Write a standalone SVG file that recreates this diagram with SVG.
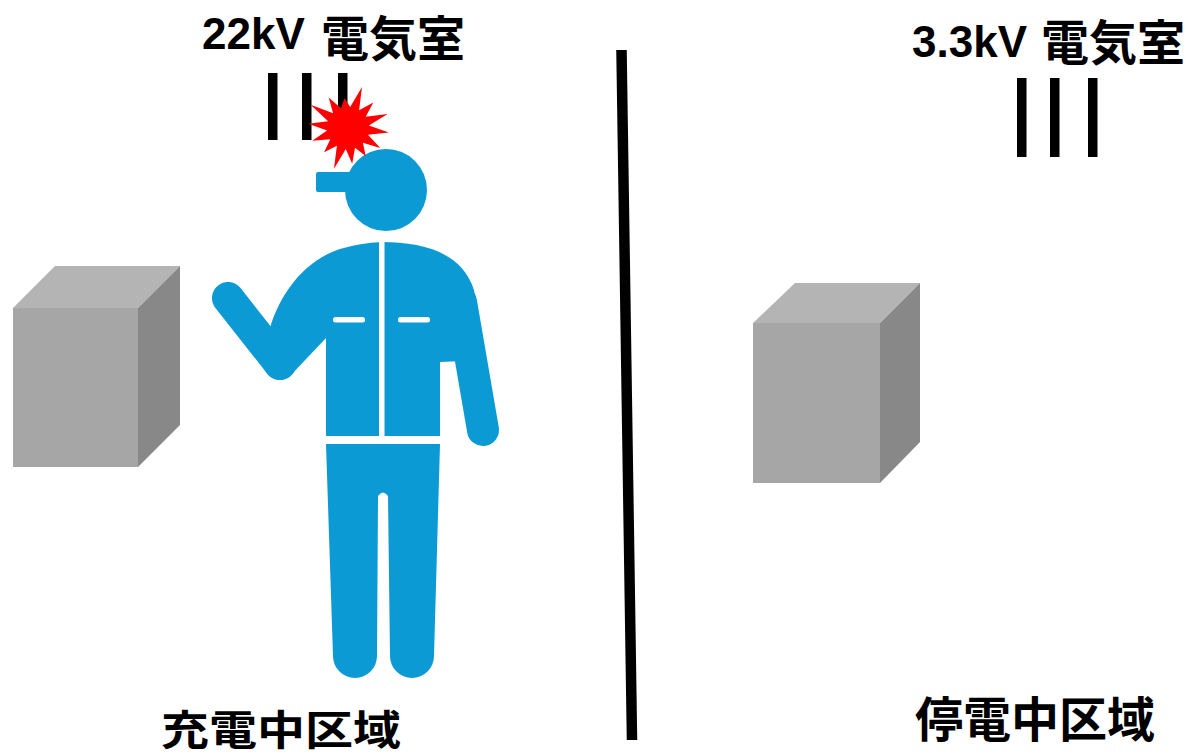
<svg xmlns="http://www.w3.org/2000/svg" width="1188" height="755" viewBox="0 0 1188 755">
  <style>
    .lat { font-family: "Liberation Sans", Arial, sans-serif; font-weight: 700; font-size: 44px; fill: #000; }
    .cjk { font-family: "Noto Sans CJK JP", "Noto Sans CJK SC", sans-serif; font-weight: 700; font-size: 48px; fill: #000; }
    .bar { fill: #000; }
    .suit { fill: #0B9AD3; }
    .limb { fill: none; stroke: #0B9AD3; stroke-width: 32; stroke-linecap: round; stroke-linejoin: round; }
    .seam { fill: #fff; }
    .front { fill: #A6A6A6; }
    .top { fill: #B4B4B4; }
    .side { fill: #888888; }
  </style>

  <rect width="1188" height="755" fill="#fff"/>

  <!-- 22 kV room: title and three bus bars -->
  <g id="room-22kv">
    <text class="lat" x="202" y="49">22kV</text>
    <text class="cjk" x="321" y="56">電気室</text>
    <rect class="bar" x="268" y="73" width="9.5" height="67"/>
    <rect class="bar" x="302" y="73" width="9.5" height="67"/>
    <rect class="bar" x="338" y="73" width="9.5" height="67"/>
  </g>

  <!-- 3.3 kV room: title and three bus bars -->
  <g id="room-3kv">
    <text class="lat" x="912" y="57">3.3kV</text>
    <text class="cjk" x="1041" y="60">電気室</text>
    <rect class="bar" x="1017" y="78" width="9.5" height="79"/>
    <rect class="bar" x="1050" y="78" width="9.5" height="79"/>
    <rect class="bar" x="1088" y="78" width="9.5" height="79"/>
  </g>

  <!-- equipment cabinets -->
  <g id="box-left">
    <polygon class="top" points="13,308 55,266 180,266 138,308"/>
    <polygon class="side" points="138,308 180,266 180,425 138,467"/>
    <rect class="front" x="13" y="308" width="125" height="159"/>
  </g>
  <g id="box-right">
    <polygon class="top" points="753,323 795,283 920,283 880,323"/>
    <polygon class="side" points="880,323 920,283 920,442 880,483"/>
    <rect class="front" x="753" y="323" width="127" height="160"/>
  </g>

  <!-- worker -->
  <g id="worker">
    <circle class="suit" cx="386" cy="190" r="41"/>
    <rect class="suit" x="316" y="172" width="40" height="20" rx="2"/>
    <path class="suit" d="M326,436 L326,338 L290,376 L270,328 C278,300 300,262 340,249 Q360,243 382,242 C422,242 462,252 474,290 L486,360 L440,362 L440,436 Z"/>
    <polyline class="limb" points="228,298 280,364"/>
    <polyline class="limb" points="280,364 300,335"/>
    <polyline class="limb" points="461,302 483,430"/>
    <rect class="seam" x="379" y="236" width="5.5" height="202"/>
    <rect class="seam" x="333" y="317" width="32" height="5.5" rx="2.5"/>
    <rect class="seam" x="398" y="317" width="32" height="5.5" rx="2.5"/>
    <path class="suit" d="M326,444 H440 L434,656 A22,22 0 0 1 390,656 L388,496 Q383,489 378,496 L377,656 A22,22 0 0 1 333,656 Z"/>
  </g>

  <!-- arc flash at the bus bar -->
  <g id="spark">
    <polygon fill="#FF0000" points="362,87 359.1,110.2 373.3,102.4 365.7,116.7 387.6,113.9 368.9,125.5 388.8,132.4 367.9,134.8 380.3,148.1 362.9,142.8 365.7,155.9 355,147.8 352.2,163.8 345.8,148.9 334,168.7 336.9,145.8 324.1,152.2 330.3,139.3 312.2,140.7 327.1,130.5 308.2,123.8 328.1,121.2 310.6,104.8 333.1,113.2 328.7,97.6 341,108.2 344.5,98.2 350.2,107.1"/>
  </g>

  <!-- boundary between live and de-energised zones -->
  <g id="divider">
    <line x1="621.5" y1="50" x2="632" y2="740" stroke="#000" stroke-width="10.5"/>
  </g>

  <!-- zone labels -->
  <g id="label-live">
    <text class="cjk" transform="translate(161 745) scale(1 0.86)">充電中区域</text>
  </g>
  <g id="label-dead">
    <text class="cjk" x="915" y="737">停電中区域</text>
  </g>
</svg>
